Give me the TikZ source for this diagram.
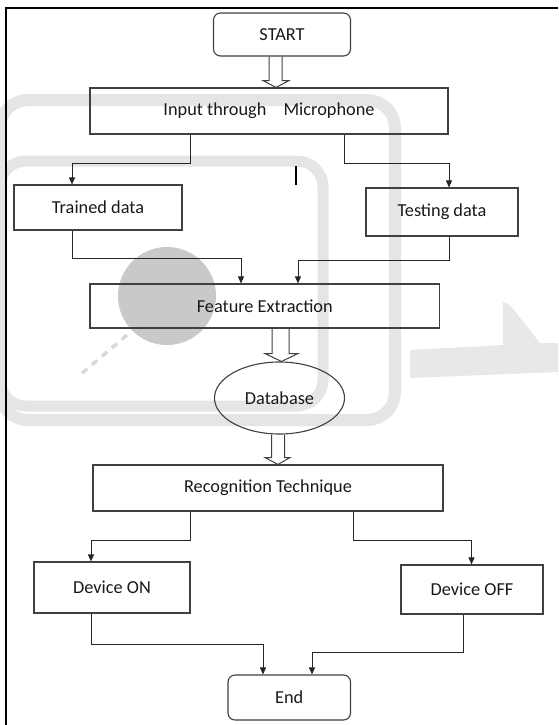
\documentclass[tikz,border=0pt]{standalone}
\usepackage{fontspec}
\setmainfont{Carlito}
\usetikzlibrary{arrows.meta,shapes.geometric,calc}
\begin{document}
\begin{tikzpicture}[x=1pt,y=-1pt,
  box/.style={draw=black!75, line width=1.1pt, inner sep=0pt,
    font=\fontsize{18.3}{22}\selectfont, text=black!90},
  rbox/.style={box, rounded corners=7pt},
  conn/.style={draw=black!85, line width=0.9pt, -{Triangle[length=7pt,width=6pt]}},
  blk/.style={draw=black!75, line width=1pt, line join=miter},
  wm/.style={draw=black!10},
]
\useasboundingbox (0,0) rectangle (558,725);
% watermark
\begin{scope}
\clip (0,0) rectangle (558,725);
\draw[wm, line width=12pt, rounded corners=28pt] (0,100) rectangle (395,420);
\draw[wm, line width=11pt, rounded corners=26pt] (0,161) rectangle (323,406);
\fill[black!9] (410,350) -- (503,345) -- (503,302) -- (510,305) -- (540,343)
  -- (558,343) -- (558,372) -- (410,378) -- cycle;
\fill[black!21] (167,296) circle[radius=49];
\draw[black!15, line width=3.5pt, dash pattern=on 7pt off 6pt] (127,335) -- (80,375);
\end{scope}
% frame
\draw[black, line width=1.7pt] (6,725) -- (6,8) -- (558,8);
% nodes
\node[rbox, minimum width=137pt, minimum height=43pt] (start) at (282,34.5) {START};
\node[box, minimum width=358pt, minimum height=46pt] (in) at (269,111) {Input through\hspace{13pt} Microphone};
\node[box, minimum width=168pt, minimum height=45pt] (trained) at (98,207.5) {Trained data};
\node[box, minimum width=152pt, minimum height=48pt] (testing) at (442,212) {Testing data};
\node[box, minimum width=349.5pt, minimum height=44pt] (feat) at (264.75,306) {Feature Extraction};
\node[box, ellipse, minimum width=130pt, minimum height=72pt] (db) at (279.5,398) {Database};
\node[box, minimum width=350pt, minimum height=46pt] (rec) at (268,488) {Recognition Technique};
\node[box, minimum width=156pt, minimum height=51pt] (on) at (112,587.5) {Device ON};
\node[box, minimum width=142pt, minimum height=49pt] (off) at (472,589.5) {Device OFF};
\node[rbox, minimum width=122.5pt, minimum height=45pt] (end) at (289.25,697.5) {End};
% stray mark
\draw[black, line width=1.4pt] (296,166) -- (296,185);
% block arrows
\draw[blk] ($(start.south)+(-13,0)$) -- ++(0,24) -- ++(-6,0) -- ($(in.north)+(7,0)$)
  -- ($(start.south)+(7,24)$) -- ++(-7,0) -- ($(start.south)+(0,0)$);
\draw[blk] ($(feat.south)+(7.25,0)$) -- ++(0,25) -- ++(-7,0) -- ($(db.north)+(2,0)$)
  -- ($(feat.south)+(33.25,25)$) -- ++(-9,0) -- ($(feat.south)+(24.25,0)$);
\draw[blk] ($(db.south)+(-8,0)$) -- ++(0,23) -- ++(-6.5,0) -- ($(rec.north)+(10,0)$)
  -- ($(db.south)+(10.5,23)$) -- ++(-5.3,0) -- ($(db.south)+(5.2,0)$);
% connectors
\draw[conn] ([xshift=-79pt]in.south) -- ++(0,29) -| ([xshift=-26pt]trained.north);
\draw[conn] ([xshift=75pt]in.south) -- ++(0,29) -| ([xshift=7pt]testing.north);
\draw[conn] ([xshift=-26pt]trained.south) -- ++(0,28) -| ([xshift=-23.75pt]feat.north);
\draw[conn] ([xshift=7pt]testing.south) -- ++(0,24) -| ([xshift=33.25pt]feat.north);
\draw[conn] ([xshift=-78pt]rec.south) -- ++(0,29) -| ([xshift=-21pt]on.north);
\draw[conn] ([xshift=85pt]rec.south) -- ++(0,29) -| ([xshift=-0.5pt]off.north);
\draw[conn] ([xshift=-21pt]on.south) -- ++(0,31) -| ([xshift=-26.25pt]end.north);
\draw[conn] ([xshift=-9pt]off.south) -- ++(0,38) -| ([xshift=22.75pt]end.north);
\end{tikzpicture}
\end{document}
